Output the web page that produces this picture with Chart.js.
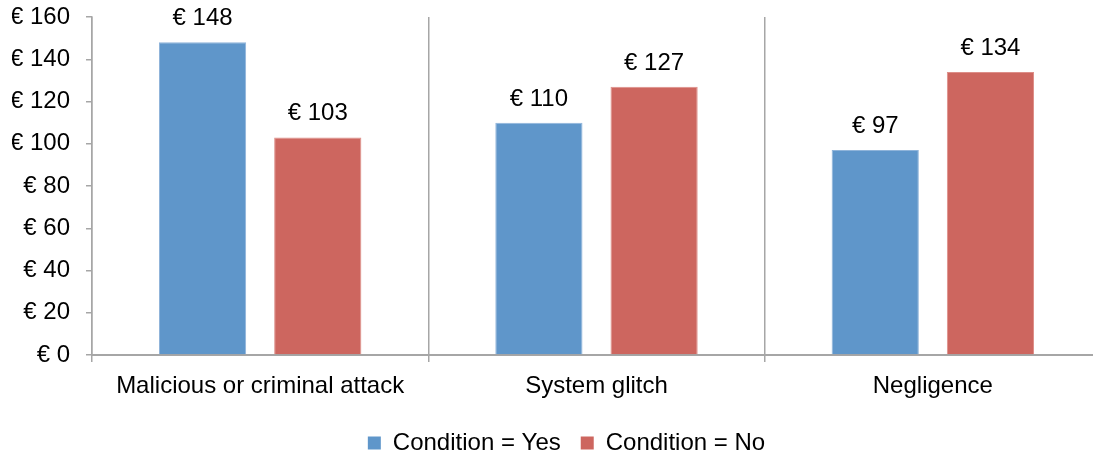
<!DOCTYPE html>
<html>
<head>
<meta charset="utf-8">
<script src="https://cdn.jsdelivr.net/npm/chart.js@4/dist/chart.umd.min.js"></script>
<style>
  html, body { margin: 0; padding: 0; background: #fff; overflow: hidden; }
  #wrap { position: relative; width: 1102px; height: 456px; }
</style>
</head>
<body>
<div id="wrap"><canvas id="c"></canvas></div>
<script>
const categories = ["Malicious or criminal attack", "System glitch", "Negligence"];
const seriesNames = ["Condition = Yes", "Condition = No"];
const valuesYes = [148, 110, 97];
const valuesNo = [103, 127, 134];
const yTicks = [0, 20, 40, 60, 80, 100, 120, 140, 160];

const FONT = "'Liberation Sans', Arial, sans-serif";
const FS = 24;
const GRID = '#a6a6a6';

const dataLabels = {
  id: 'dataLabels',
  afterDatasetsDraw(chart) {
    const ctx = chart.ctx;
    ctx.save();
    ctx.font = FS + 'px ' + FONT;
    ctx.fillStyle = '#000';
    ctx.textAlign = 'center';
    ctx.textBaseline = 'alphabetic';
    chart.data.datasets.forEach((ds, i) => {
      chart.getDatasetMeta(i).data.forEach((bar, j) => {
        ctx.fillText('€ ' + ds.data[j], bar.x, bar.y - 17);
      });
    });
    ctx.restore();
  }
};

const legendShift = {
  id: 'legendShift',
  afterLayout(chart) {
    chart.legend.left += 10;
    chart.legend.right += 10;
  }
};

new Chart(document.getElementById('c'), {
  type: 'bar',
  data: {
    labels: categories,
    datasets: [
      { label: seriesNames[0], data: valuesYes, backgroundColor: '#5F96CA', borderColor: '#8fb4da', borderWidth: 1, borderSkipped: 'bottom', categoryPercentage: 0.685, barPercentage: 0.757 },
      { label: seriesNames[1], data: valuesNo, backgroundColor: '#CD665F', borderColor: '#dd8e88', borderWidth: 1, borderSkipped: 'bottom', categoryPercentage: 0.685, barPercentage: 0.757 }
    ]
  },
  options: {
    responsive: true,
    maintainAspectRatio: false,
    animation: false,
    layout: { padding: { top: 17, left: 12, right: 1, bottom: -9 } },
    plugins: {
      tooltip: { enabled: false },
      legend: {
        position: 'bottom',
        labels: {
          font: { family: FONT, size: FS },
          color: '#000',
          boxWidth: 13,
          boxHeight: 13,
          padding: 20,
          generateLabels(chart) {
            return chart.data.datasets.map((ds, i) => ({
              text: ds.label, fillStyle: ds.backgroundColor, strokeStyle: ds.backgroundColor,
              lineWidth: 0, hidden: false, datasetIndex: i, fontColor: '#000'
            }));
          }
        }
      }
    },
    scales: {
      x: {
        offset: true,
        afterFit(scale) { scale.height = 56; scale.paddingLeft = 0; scale.paddingRight = 0; },
        grid: { display: true, offset: true, color: GRID, lineWidth: 1.5, tickLength: 7, drawOnChartArea: true },
        border: { display: true, color: GRID, width: 2 },
        ticks: { font: { family: FONT, size: FS }, color: '#000', padding: 10 }
      },
      y: {
        min: 0,
        max: 160,
        afterBuildTicks(scale) { scale.ticks = yTicks.map(v => ({ value: v })); },
        afterFit(scale) { scale.width = 80; scale.paddingTop = 0; scale.paddingBottom = 0; },
        grid: { display: true, drawOnChartArea: false, color: GRID, lineWidth: 1.5, tickLength: 6 },
        border: { display: true, color: GRID, width: 1.5 },
        ticks: { font: { family: FONT, size: FS }, color: '#000', padding: 16, callback: v => '€ ' + v }
      }
    }
  },
  plugins: [dataLabels, legendShift]
});
</script>
</body>
</html>
